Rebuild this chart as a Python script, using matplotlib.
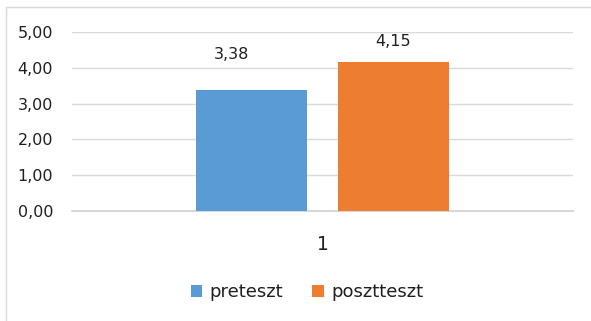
import matplotlib
matplotlib.use('Agg')
import matplotlib.pyplot as plt
from matplotlib.patches import Rectangle
import matplotlib.ticker as mticker

plt.rcParams['font.family'] = ['DejaVu Sans']

categories = ['1']
series_names = ['preteszt', 'posztteszt']
series_values = [3.38, 4.15]
colors = ['#5B9BD5', '#ED7D31']

fig = plt.figure(figsize=(5.91, 3.21), dpi=100)
fig.patch.set_facecolor('white')

# keret a diagram körül
fig.patches.append(Rectangle((6 / 591, -0.05), 1.1, (321 - 6.5) / 321 + 0.05,
                             transform=fig.transFigure, fill=False,
                             edgecolor='#D9D9D9', lw=1.0))

ax = fig.add_axes([72 / 591, 1 - 211 / 321, (573 - 72) / 591, (211 - 32) / 321])

width = 0.222
offsets = [-0.142, 0.142]
# címkék kézzel eltolva (pixelben: dx, dy)
label_shift = [(-20, 35), (-1, 21)]
for name, val, col, off, (dx, dy) in zip(series_names, series_values, colors, offsets, label_shift):
    ax.bar(off, val, width, color=col, label=name, zorder=2)
    ax.annotate(f'{val:.2f}'.replace('.', ','), xy=(off, val),
                xytext=(dx * 0.72, dy * 0.72), textcoords='offset points',
                ha='center', va='center', fontsize=11.5, color='#1F1F1F')

ax.set_xlim(-0.5, 0.5)
ax.set_ylim(0, 5)
ax.set_yticks([0, 1, 2, 3, 4, 5])
ax.yaxis.set_major_formatter(mticker.FuncFormatter(lambda v, p: f'{v:.2f}'.replace('.', ',')))
ax.grid(axis='y', color='#D9D9D9', lw=1.0, zorder=0)
ax.axhline(0, color='#D0D0D0', lw=1.2, clip_on=False, zorder=1)
ax.set_xticks([0])
ax.set_xticklabels(categories, fontsize=13.5, color='#1F1F1F')
ax.tick_params(axis='x', length=0, pad=17)
ax.tick_params(axis='y', length=0, pad=13.5, labelsize=11.5, labelcolor='#1F1F1F')
for s in ax.spines.values():
    s.set_visible(False)

fig.legend(loc='center', bbox_to_anchor=(307 / 591, 1 - 292 / 321), ncol=2, frameon=False,
           fontsize=13, handlelength=0.65, handleheight=0.65, handletextpad=0.4,
           columnspacing=1.6, labelcolor='#1F1F1F')

plt.savefig('out.png', dpi=100, facecolor='white')
